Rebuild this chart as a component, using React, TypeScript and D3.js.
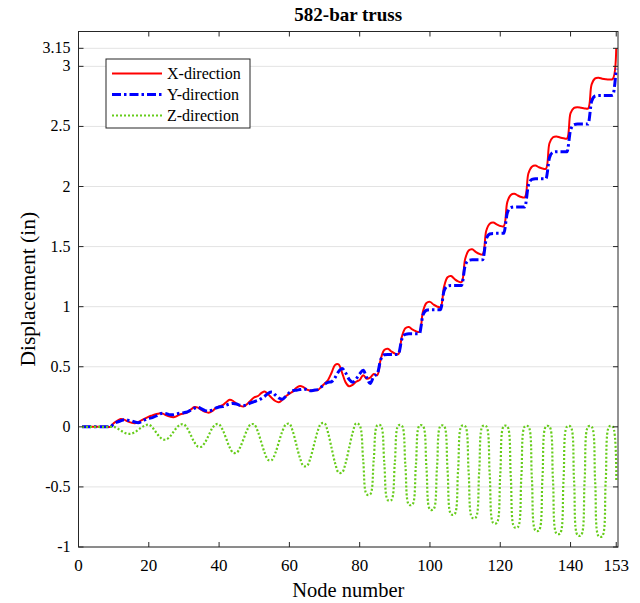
import React from "react";
import * as d3 from "d3";

const xDir: number[] = [
  0, 0, 0, 0, 0, 0, 0, 0, 0,
  0.03, 0.05, 0.065, 0.06, 0.045, 0.035, 0.03, 0.04, 0.055, 0.07,
  0.085, 0.095, 0.105, 0.112, 0.11, 0.095, 0.085, 0.08, 0.09, 0.105,
  0.112, 0.12, 0.145, 0.165, 0.16, 0.14, 0.125, 0.118, 0.13, 0.155,
  0.17, 0.18, 0.205, 0.225, 0.215, 0.19, 0.175, 0.17, 0.19, 0.22,
  0.245, 0.255, 0.28, 0.295, 0.27, 0.24, 0.215, 0.205, 0.225, 0.255,
  0.275, 0.295, 0.325, 0.34, 0.33, 0.31, 0.302, 0.305, 0.305, 0.33,
  0.36, 0.39, 0.45, 0.515, 0.52, 0.45, 0.37, 0.337, 0.35, 0.375,
  0.39, 0.43, 0.40, 0.41, 0.44, 0.43,
  0.565, 0.64, 0.65, 0.627, 0.61, 0.605,
  0.75, 0.82, 0.83, 0.81, 0.795, 0.79,
  0.96, 1.03, 1.04, 1.018, 1.002, 0.997,
  1.165, 1.245, 1.255, 1.23, 1.21, 1.205,
  1.395, 1.467, 1.477, 1.456, 1.44, 1.435,
  1.63, 1.69, 1.70, 1.685, 1.672, 1.67,
  1.87, 1.93, 1.94, 1.925, 1.912, 1.91,
  2.108, 2.165, 2.175, 2.16, 2.15, 2.148,
  2.36, 2.41, 2.417, 2.408, 2.402, 2.40,
  2.61, 2.655, 2.66, 2.655, 2.65, 2.65,
  2.85, 2.90, 2.905, 2.897, 2.892, 2.89,
  2.895, 3.15,
];

const yDir: number[] = [
  0, 0, 0, 0, 0, 0, 0, 0, 0,
  0.025, 0.04, 0.05, 0.06, 0.055, 0.05, 0.04, 0.035, 0.045, 0.06,
  0.07, 0.076, 0.09, 0.105, 0.114, 0.11, 0.1, 0.1, 0.108, 0.114,
  0.118, 0.125, 0.14, 0.155, 0.162, 0.15, 0.135, 0.13, 0.14, 0.155,
  0.165, 0.168, 0.18, 0.19, 0.195, 0.19, 0.18, 0.178, 0.185, 0.2,
  0.21, 0.22, 0.235, 0.255, 0.28, 0.29, 0.265, 0.24, 0.23, 0.255,
  0.285, 0.3, 0.305, 0.31, 0.315, 0.31, 0.3, 0.305, 0.31, 0.33,
  0.355, 0.37, 0.375, 0.41, 0.46, 0.485, 0.45, 0.395, 0.372, 0.4,
  0.44, 0.47, 0.41, 0.36, 0.42, 0.44,
  0.56, 0.6, 0.603, 0.603, 0.603, 0.603,
  0.73, 0.77, 0.775, 0.775, 0.775, 0.775,
  0.93, 0.97, 0.975, 0.975, 0.975, 0.975,
  1.13, 1.172, 1.177, 1.177, 1.177, 1.177,
  1.34, 1.385, 1.39, 1.39, 1.39, 1.39,
  1.56, 1.605, 1.61, 1.61, 1.61, 1.61,
  1.78, 1.825, 1.83, 1.83, 1.83, 1.83,
  2.01, 2.06, 2.065, 2.065, 2.065, 2.065,
  2.24, 2.285, 2.29, 2.29, 2.29, 2.29,
  2.47, 2.515, 2.52, 2.52, 2.52, 2.52,
  2.71, 2.753, 2.758, 2.758, 2.758, 2.758,
  2.76, 2.98,
];

const zDir: number[] = [
  0, 0, 0, 0, 0, 0, 0, 0, 0,
  0.0, -0.012, -0.03, -0.047, -0.057, -0.057, -0.045, -0.025, -0.003, 0.012,
  0.019, -0.005, -0.043, -0.081, -0.105, -0.105, -0.081, -0.043, -0.005, 0.019,
  0.020, -0.015, -0.073, -0.130, -0.165, -0.165, -0.130, -0.073, -0.015, 0.020,
  0.021, -0.024, -0.097, -0.170, -0.215, -0.215, -0.170, -0.097, -0.024, 0.021,
  0.019, -0.037, -0.128, -0.219, -0.276, -0.276, -0.219, -0.128, -0.037, 0.019,
  0.026, -0.041, -0.150, -0.258, -0.325, -0.325, -0.258, -0.150, -0.041, 0.026,
  0.030, -0.049, -0.175, -0.301, -0.380, -0.380, -0.301, -0.175, -0.049, 0.030,
  0.012, -0.275, -0.562, -0.562, -0.275, 0.012,
  0.011, -0.300, -0.610, -0.610, -0.300, 0.011,
  0.010, -0.319, -0.647, -0.647, -0.319, 0.010,
  0.008, -0.339, -0.687, -0.687, -0.339, 0.008,
  0.007, -0.360, -0.727, -0.727, -0.360, 0.007,
  0.006, -0.375, -0.756, -0.756, -0.375, 0.006,
  0.005, -0.397, -0.800, -0.800, -0.397, 0.005,
  0.004, -0.415, -0.835, -0.835, -0.415, 0.004,
  0.003, -0.430, -0.862, -0.862, -0.430, 0.003,
  0.002, -0.443, -0.888, -0.888, -0.443, 0.002,
  0.002, -0.450, -0.902, -0.902, -0.450, 0.002,
  0.002, -0.455, -0.911, -0.911, -0.455, 0.002,
  0.002, -0.46,
];

const xTicks: number[] = [0, 20, 40, 60, 80, 100, 120, 140, 153];
const yTicks: number[] = [-1, -0.5, 0, 0.5, 1, 1.5, 2, 2.5, 3, 3.15];
const seriesNames: string[] = ["X-direction", "Y-direction", "Z-direction"];

const W = 640;
const H = 603;
const L = 78.5;
const R = 618;
const T = 31.5;
const B = 547;
const FONT = "'Liberation Serif', 'Times New Roman', Times, serif";

export default function App() {
  const x = d3.scaleLinear().domain([0, 153.5]).range([L, R]);
  const y = d3.scaleLinear().domain([-1, 3.29]).range([B, T]);

  const mk = (vals: number[], curve: d3.CurveFactory) =>
    d3
      .line<number>()
      .x((_, i) => x(i + 1))
      .y((v) => y(v))
      .curve(curve)(vals) as string;

  const styles = [
    { color: "#ff0000", width: 2, dash: undefined as string | undefined },
    { color: "#0000ff", width: 3, dash: "9,3,2.5,3" },
    { color: "#66cc1a", width: 2.2, dash: "2,2" },
  ];
  const paths = [
    mk(xDir, d3.curveCatmullRom.alpha(0.5)),
    mk(yDir, d3.curveMonotoneX),
    mk(zDir, d3.curveCatmullRom.alpha(0.5)),
  ];

  const fmtY = (v: number) => (v === 3.15 ? "3.15" : String(v));
  const axisColor = "#262626";
  const tickLen = 5;

  const legX = 106;
  const legY = 59;
  const legW = 144;
  const legH = 69;
  const legRows = [73.5, 94.5, 115.5];

  return (
    <svg
      width={W}
      height={H}
      style={{ position: "absolute", left: 0, top: 0, background: "#fff" }}
      fontFamily={FONT}
    >
      <rect x={0} y={0} width={W} height={H} fill="#fff" />
      <defs>
        <clipPath id="plotclip">
          <rect x={L} y={T} width={R - L} height={B - T} />
        </clipPath>
      </defs>
      {yTicks.map((t) => (
        <line
          key={"g" + t}
          x1={L}
          x2={R}
          y1={y(t)}
          y2={y(t)}
          stroke="#e3e3e3"
          strokeWidth={1}
        />
      ))}
      <g clipPath="url(#plotclip)">
        {paths.map((p, i) => (
          <path
            key={i}
            d={p}
            fill="none"
            stroke={styles[i].color}
            strokeWidth={styles[i].width}
            strokeDasharray={styles[i].dash}
            strokeLinejoin="round"
          />
        ))}
      </g>
      <rect
        x={L}
        y={T}
        width={R - L}
        height={B - T}
        fill="none"
        stroke={axisColor}
        strokeWidth={1}
      />
      {xTicks.map((t) => (
        <g key={"x" + t}>
          <line x1={x(t)} x2={x(t)} y1={B} y2={B - tickLen} stroke={axisColor} />
          <line x1={x(t)} x2={x(t)} y1={T} y2={T + tickLen} stroke={axisColor} />
          <text
            x={x(t)}
            y={B + 24}
            textAnchor="middle"
            fontSize={17}
            fill="#000"
          >
            {t}
          </text>
        </g>
      ))}
      {yTicks.map((t) => (
        <g key={"y" + t}>
          <line x1={L} x2={L + tickLen} y1={y(t)} y2={y(t)} stroke={axisColor} />
          <line x1={R} x2={R - tickLen} y1={y(t)} y2={y(t)} stroke={axisColor} />
          <text
            x={L - 8}
            y={y(t) + 5}
            textAnchor="end"
            fontSize={16}
            fill="#000"
          >
            {fmtY(t)}
          </text>
        </g>
      ))}
      <text
        x={(L + R) / 2}
        y={21}
        textAnchor="middle"
        fontSize={19}
        fontWeight="bold"
        fill="#000"
      >
        582-bar truss
      </text>
      <text
        x={(L + R) / 2}
        y={597}
        textAnchor="middle"
        fontSize={20.5}
        fill="#000"
      >
        Node number
      </text>
      <text
        transform={`translate(35, ${(T + B) / 2}) rotate(-90)`}
        textAnchor="middle"
        fontSize={21.5}
        fill="#000"
      >
        Displacement (in)
      </text>
      <rect
        x={legX}
        y={legY}
        width={legW}
        height={legH}
        fill="#fff"
        stroke={axisColor}
        strokeWidth={1}
      />
      {seriesNames.map((n, i) => (
        <g key={n}>
          <line
            x1={112}
            x2={162}
            y1={legRows[i]}
            y2={legRows[i]}
            stroke={styles[i].color}
            strokeWidth={styles[i].width}
            strokeDasharray={styles[i].dash}
          />
          <text x={167} y={legRows[i] + 5} fontSize={16} fill="#000">
            {n}
          </text>
        </g>
      ))}
    </svg>
  );
}
